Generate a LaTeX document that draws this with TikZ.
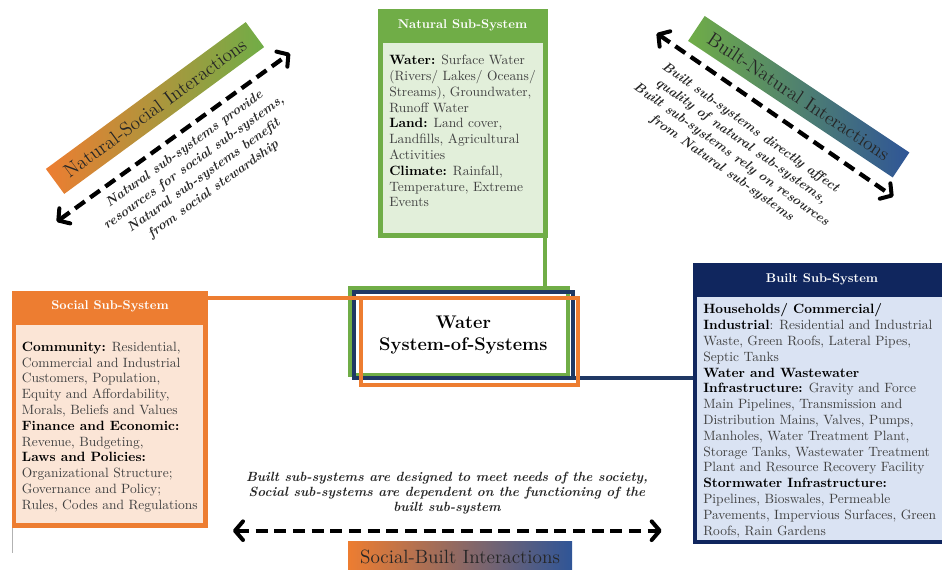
\documentclass[tikz,border=0pt]{standalone}
\usetikzlibrary{arrows.meta,fit}

\definecolor{natgreen}{HTML}{70AD47}
\definecolor{natfill}{HTML}{E2EFDA}
\definecolor{socorange}{HTML}{ED7D31}
\definecolor{socfill}{HTML}{FBE5D6}
\definecolor{builtnavy}{HTML}{10265E}
\definecolor{linknavy}{HTML}{1F3864}
\definecolor{builtfill}{HTML}{DAE3F3}
\definecolor{bandblue}{HTML}{2F5597}
\definecolor{bandmid}{HTML}{A05F70}
\definecolor{bodygray}{HTML}{404040}

\newcommand\kw[1]{\textcolor{black}{\textbf{#1}}}

\begin{document}
\begin{tikzpicture}[x=0.75pt,y=-0.75pt,
  panel/.style={inner sep=0pt, draw=none},
  headtxt/.style={inner sep=0pt, text=white, font=\fontsize{9.5}{11}\selectfont\bfseries},
  bodytxt/.style={inner sep=0pt, align=left, anchor=north west, text=bodygray,
    font=\fontsize{10.1}{11.85}\selectfont},
  sysframe/.style={inner sep=0pt, line width=3pt},
  linkline/.style={line width=3.2pt},
  notetxt/.style={inner sep=0pt, align=center, text=black!85,
    font=\fontsize{10}{12.4}\selectfont\bfseries\itshape},
  band/.style={inner sep=0pt, text=black!85, font=\fontsize{14.4}{16}\selectfont},
  biarrow/.style={line width=3.2pt, dash pattern=on 9pt off 5pt,
    {Straight Barb[length=6pt,width=14pt,line width=3pt,round]}-{Straight Barb[length=6pt,width=14pt,line width=3pt,round]}},
  stubline/.style={draw=black!30, line width=0.6pt}
]
\useasboundingbox (0,0) rectangle (942,569);

% ---------- Natural sub-system ----------
\node[panel, fill=natgreen, fit={(377.5,8.5)(548,238)}] (nat) {};
\node[panel, fill=natfill, fit={(383,42.5)(542.5,233)}] (natbody) {};
\node[headtxt] (nathead) at (462.5,25) {Natural Sub-System};
\node[bodytxt] (nattext) at (389,55) {%
\kw{Water:} Surface Water\\
(Rivers/ Lakes/ Oceans/\\
Streams), Groundwater,\\
Runoff Water\\
\kw{Land:} Land cover,\\
Landfills, Agricultural\\
Activities\\
\kw{Climate:} Rainfall,\\
Temperature, Extreme\\
Events};

% ---------- Social sub-system ----------
\node[panel, fill=socorange, fit={(11.7,291)(208,527.7)}] (soc) {};
\node[panel, fill=socfill, fit={(16,325)(203,523)}] (socbody) {};
\node[headtxt] (sochead) at (110,306.5) {Social Sub-System};
\node[bodytxt] (soctext) at (21.7,341.7) {%
\kw{Community:} Residential,\\
Commercial and Industrial\\
Customers, Population,\\
Equity and Affordability,\\
Morals, Beliefs and Values\\
\kw{Finance and Economic:}\\
Revenue, Budgeting,\\
\kw{Laws and Policies:}\\
Organizational Structure;\\
Governance and Policy;\\
Rules, Codes and Regulations};
\coordinate (socstub) at (12.7,553);
\draw[stubline] (socstub |- soc.south) -- (socstub);

% ---------- Built sub-system ----------
\node[panel, fill=builtnavy, fit={(693.3,262.7)(951,544)}] (blt) {};
\node[panel, fill=builtfill, fit={(696.7,296.7)(948,540)}] (bltbody) {};
\node[headtxt] (blthead) at (822,279) {Built Sub-System};
\node[bodytxt] (blttext) at (703,303.5) {%
\kw{Households/ Commercial/}\\
\kw{Industrial}: Residential and Industrial\\
Waste, Green Roofs, Lateral Pipes,\\
Septic Tanks\\
\kw{Water and Wastewater}\\
\kw{Infrastructure:} Gravity and Force\\
Main Pipelines, Transmission and\\
Distribution Mains, Valves, Pumps,\\
Manholes, Water Treatment Plant,\\
Storage Tanks, Wastewater Treatment\\
Plant and Resource Recovery Facility\\
\kw{Stormwater Infrastructure:}\\
Pipelines, Bioswales, Permeable\\
Pavements, Impervious Surfaces, Green\\
Roofs, Rain Gardens};

% ---------- Central system-of-systems frames ----------
\coordinate (natdrop) at (545,238);
\node[sysframe, fit={(352,290)(566,373)}] (sosG) {};
\node[sysframe, fit={(356,294)(571,376)}] (sosN) {};
\node[sysframe, fit={(363,300)(576,383)}] (sosO) {};

\draw[linkline, natgreen] (natdrop) -- (natdrop |- sosG.north);
\draw[linkline, linknavy] (sosN.south east) -- (sosN.south east -| blt.west);
\draw[sysframe, natgreen] (sosG.north west) rectangle (sosG.south east);
\draw[sysframe, linknavy] (sosN.north west) rectangle (sosN.south east);
\draw[linkline, socorange] (sosO.north west -| soc.east) -- (sosO.north west);
\draw[sysframe, socorange] (sosO.north west) rectangle (sosO.south east);
\node[inner sep=0pt, align=center, font=\fontsize{13.7}{17}\selectfont\bfseries] (sos)
  at (463.3,335) {Water\\System-of-Systems};

% ---------- Natural-Social interactions ----------
\node[band, left color=socorange, right color=natgreen, rotate=36.3,
  minimum width=248*0.75pt, minimum height=31*0.75pt] (nsband) at (155,108)
  {Natural-Social Interactions};
\coordinate (nsA) at (56.7,221.7);
\coordinate (nsB) at (290,53.3);
\draw[biarrow] (nsA) -- (nsB);
\node[notetxt, rotate=35.8] (nsnote) at (199,169.5) {%
Natural sub-systems provide\\
resources for social sub-systems,\\
Natural sub-systems benefit\\
from social stewardship};

% ---------- Built-Natural interactions ----------
\node[band, left color=natgreen, right color=bandblue, rotate=-33.7,
  minimum width=246*0.75pt, minimum height=30*0.75pt] (bnband) at (798.7,96.7)
  {Built-Natural Interactions};
\coordinate (bnA) at (656.7,33.3);
\coordinate (bnB) at (893.3,196.7);
\draw[biarrow] (bnA) -- (bnB);
\node[notetxt, rotate=-35.5] (bnnote) at (736,148) {%
Built sub-systems directly affect\\
quality of natural sub-systems,\\
Built sub-systems rely on resources\\
from Natural sub-systems};

% ---------- Social-Built interactions ----------
\node[notetxt, font=\fontsize{10}{11.3}\selectfont\bfseries\itshape] (sbnote) at (447,493) {%
Built sub-systems are designed to meet needs of the society,\\
Social sub-systems are dependent on the functioning of the\\
built sub-system};
\coordinate (sbA) at (233,530.7);
\coordinate (sbB) at (661.7,530.7);
\draw[biarrow] (sbA) -- (sbB);
\node[band, left color=socorange, middle color=bandmid, right color=bandblue,
  minimum width=224*0.75pt, minimum height=32*0.75pt] (sbband) at (460,557)
  {Social-Built Interactions};
\end{tikzpicture}
\end{document}
